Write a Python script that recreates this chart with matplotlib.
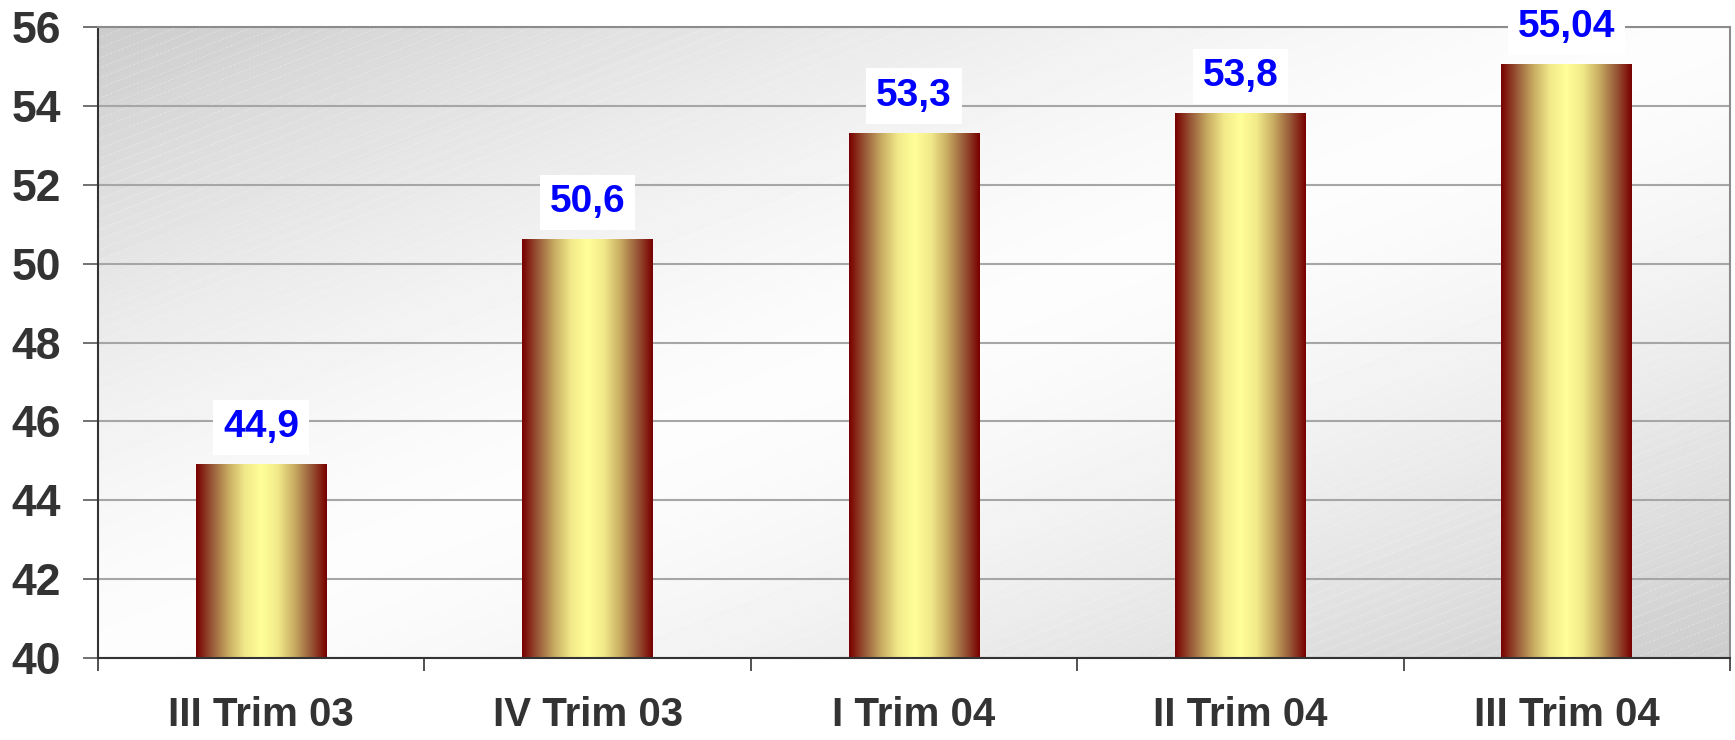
import numpy as np
import matplotlib.pyplot as plt
from matplotlib.colors import LinearSegmentedColormap

plt.rcParams['font.family'] = ['Liberation Sans', 'DejaVu Sans']

# Datos
trimestres = ['III Trim 03', 'IV Trim 03', 'I Trim 04', 'II Trim 04', 'III Trim 04']
valores = [44.9, 50.6, 53.3, 53.8, 55.04]
etiquetas = ['44,9', '50,6', '53,3', '53,8', '55,04']

fig = plt.figure(figsize=(17.35, 7.4), dpi=100)
ax = fig.add_axes([0.0565, 0.1108, 0.9406, 0.8527])

x = np.arange(len(valores))

# Fondo degradado en diagonal (gris - blanco - gris)
gx, gy = np.meshgrid(np.linspace(0, 1, 400), np.linspace(1, 0, 200))
t = (gx + (1 - gy)) / 2
fondo = 0.80 + 0.19 * (1 - np.abs(2 * t - 1) ** 1.5)
ax.imshow(fondo, extent=(0, 1, 0, 1), transform=ax.transAxes, cmap='gray',
          vmin=0, vmax=1, aspect='auto', zorder=0, interpolation='bilinear')

# rayado fino blanco del fondo
xs = np.array([0, 1])
for c in np.arange(-1.05, 1.0, 0.016):
    ax.plot(xs, 1.03 * xs + c, transform=ax.transAxes, color='white',
            lw=0.6, alpha=0.35, ls=(0, (3, 2)), zorder=0.2)

# Barras con degradado horizontal
cmap_barra = LinearSegmentedColormap.from_list(
    'barra', ['#780000', '#9a5c3a', '#c9ad63', '#f2ea8a', '#ffff99',
              '#f2ea8a', '#c9ad63', '#9a5c3a', '#780000'])
grad = np.linspace(0, 1, 256).reshape(1, -1)
bars = ax.bar(x, valores, width=0.4, color='none', edgecolor='none', zorder=2)
for bar in bars:
    x0 = bar.get_x()
    ax.imshow(grad, extent=(x0, x0 + bar.get_width(), 40, bar.get_height()),
              cmap=cmap_barra, aspect='auto', zorder=2, interpolation='bilinear')

# Etiquetas de valor
for bar, txt in zip(bars, etiquetas):
    ax.annotate(txt, (bar.get_x() + bar.get_width() / 2, bar.get_height()),
                xytext=(0, 27), textcoords='offset points', ha='center', va='center',
                fontsize=28, fontweight='bold', color='#0000ff', zorder=4,
                annotation_clip=False,
                bbox=dict(boxstyle='square,pad=0.25', fc='white', ec='none'))

ax.set_xlim(-0.5, len(valores) - 0.5)
ax.set_ylim(40, 56)

# Rejilla
ax.set_axisbelow(True)
ax.yaxis.grid(True, color='#a6a6a6', linewidth=1.5, zorder=1)

# Ejes
ax.set_yticks(range(40, 57, 2))
ax.tick_params(axis='y', length=10.8, width=1.3, color='#666666', pad=16,
               labelsize=32, labelcolor='#333333')
for lab in ax.get_yticklabels():
    lab.set_fontweight('bold')

ax.set_xticks(x)
ax.set_xticklabels(trimestres, fontsize=29, fontweight='bold', color='#333333')
ax.tick_params(axis='x', which='major', length=0, pad=27)
ax.set_xticks(np.arange(-0.5, len(valores)), minor=True)
ax.tick_params(axis='x', which='minor', length=9.5, width=1.2, color='#333333')

for s in ['top', 'right']:
    ax.spines[s].set_color('#8c8c8c')
    ax.spines[s].set_linewidth(1.5)
for s in ['left', 'bottom']:
    ax.spines[s].set_color('#333333')
    ax.spines[s].set_linewidth(1.5)

fig.savefig('out.png', dpi=100)
